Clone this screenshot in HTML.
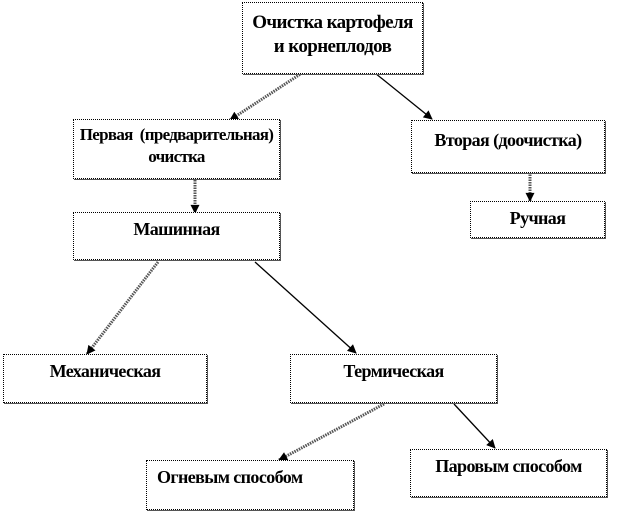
<!DOCTYPE html>
<html><head><meta charset="utf-8"><style>
body{margin:0;width:618px;height:511px;background:#fff;position:relative;overflow:hidden;font-family:"Liberation Serif","DejaVu Serif",serif;}
.b{position:absolute;border:1px dotted #000;box-shadow:1px 1px 0 #555;background:#fff;box-sizing:border-box;text-align:center;font-weight:bold;font-size:18px;line-height:22px;letter-spacing:-0.6px;color:#000;white-space:nowrap}
svg{position:absolute;left:0;top:0}
</style></head><body>
<svg width="618" height="511">
<defs>
<marker id="a" viewBox="0 0 10 10" refX="9" refY="5" markerWidth="11" markerHeight="9" markerUnits="userSpaceOnUse" orient="auto"><path d="M0,0L10,5L0,10z" fill="#000"/></marker>
</defs>
<g stroke-linecap="butt">
<line x1="302" y1="73" x2="230" y2="120" stroke="#555" stroke-width="3" stroke-dasharray="1.5 1" marker-end="url(#a)"/>
<line x1="375" y1="73" x2="432" y2="119" stroke="#000" stroke-width="1.3" marker-end="url(#a)"/>
<line x1="195" y1="180" x2="195" y2="213" stroke="#555" stroke-width="3" stroke-dasharray="1.5 1" marker-end="url(#a)"/>
<line x1="530" y1="172" x2="530" y2="201" stroke="#555" stroke-width="3" stroke-dasharray="1.5 1" marker-end="url(#a)"/>
<line x1="158" y1="262" x2="87" y2="354" stroke="#555" stroke-width="3" stroke-dasharray="1.5 1" marker-end="url(#a)"/>
<line x1="255" y1="262" x2="356" y2="353" stroke="#000" stroke-width="1.3" marker-end="url(#a)"/>
<line x1="384" y1="404" x2="279" y2="460" stroke="#555" stroke-width="3" stroke-dasharray="1.5 1" marker-end="url(#a)"/>
<line x1="454" y1="404" x2="495" y2="448" stroke="#000" stroke-width="1.3" marker-end="url(#a)"/>
</g>
</svg>
<div class="b" style="left:242px;top:2px;width:181px;height:72px;padding-top:8px;font-size:19px;line-height:24px">Очистка картофеля<br>и корнеплодов</div>
<div class="b" style="left:73px;top:119px;width:207px;height:60px;padding-top:4px;font-size:17px;letter-spacing:-0.7px">Первая &nbsp;(предварительная)<br>очистка</div>
<div class="b" style="left:411px;top:120px;width:194px;height:53px;padding-top:8px">Вторая (доочистка)</div>
<div class="b" style="left:470px;top:201px;width:135px;height:37px;padding-top:5px">Ручная</div>
<div class="b" style="left:73px;top:212px;width:207px;height:48px;padding-top:5px">Машинная</div>
<div class="b" style="left:3px;top:354px;width:204px;height:49px;padding-top:5px">Механическая</div>
<div class="b" style="left:290px;top:354px;width:207px;height:49px;padding-top:5px">Термическая</div>
<div class="b" style="left:146px;top:460px;width:208px;height:50px;padding-top:5px;text-align:left;padding-left:10px">Огневым способом</div>
<div class="b" style="left:410px;top:449px;width:197px;height:48px;padding-top:5px">Паровым способом</div>
</body></html>
